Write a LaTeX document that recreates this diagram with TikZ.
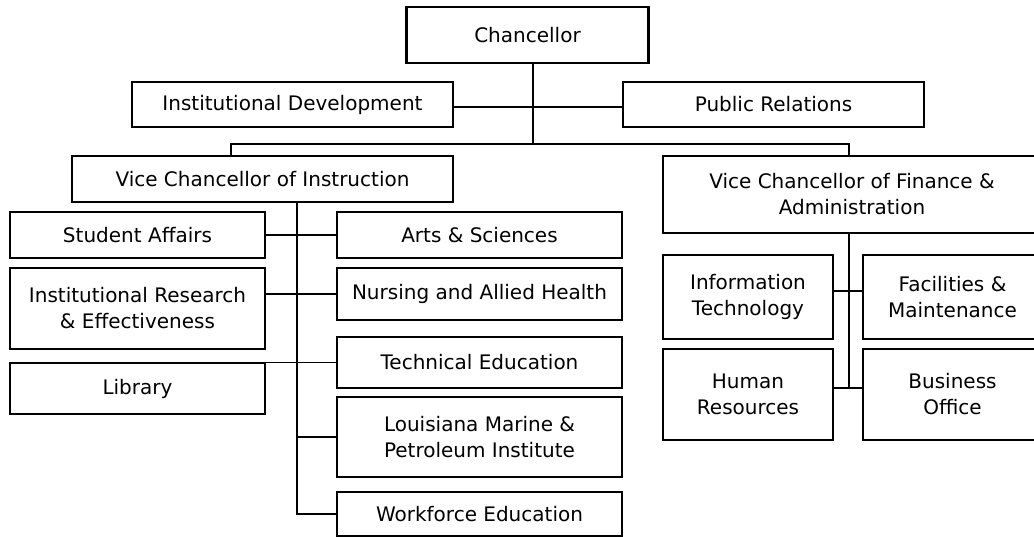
\documentclass[tikz,border=0pt]{standalone}
\usepackage{fontspec}
\setmainfont{DejaVu Sans}

\begin{document}
\begin{tikzpicture}[x=1pt,y=-1pt]
	\tikzset{
	  BoxStyle/.style = { draw, line width=2.3pt, fill=white, inner sep=0pt,
	                      align=center, font=\fontsize{20}{26}\selectfont },
	  EdgeStyle/.style = { line width=1.9pt } }
	\useasboundingbox (0,0) rectangle (1034,537);
	\node[BoxStyle, minimum width=242pt, minimum height=56pt] (chan) at (527.5,35) {Chancellor};
	\node[BoxStyle, minimum width=321pt, minimum height=45pt] (instdev) at (292.5,104.5) {Institutional Development};
	\node[BoxStyle, minimum width=301pt, minimum height=45pt] (pubrel) at (773.5,104.5) {Public Relations};
	\node[BoxStyle, minimum width=381pt, minimum height=46pt] (vcinst) at (262.5,179) {Vice Chancellor of Instruction};
	\node[BoxStyle, minimum width=378pt, minimum height=77pt] (vcfin) at (852,194.5) {Vice Chancellor of Finance \&\\Administration};
	\begin{scope}[BoxStyle/.append style = { minimum width=255pt }]
	\node[BoxStyle, minimum height=46pt] (stud) at (137.5,235) {Student Affairs};
	\node[BoxStyle, minimum height=81pt] (instres) at (137.5,308.5) {Institutional Research\\\& Effectiveness};
	\node[BoxStyle, minimum height=51pt] (lib) at (137.5,388.5) {Library};
	\end{scope}
	\begin{scope}[BoxStyle/.append style = { minimum width=285pt }]
	\node[BoxStyle, minimum height=46pt] (arts) at (479.5,235) {Arts \& Sciences};
	\node[BoxStyle, minimum height=52pt] (nurs) at (479.5,294) {Nursing and Allied Health};
	\node[BoxStyle, minimum height=51pt] (tech) at (479.5,362.5) {Technical Education};
	\node[BoxStyle, minimum height=80pt] (lmpi) at (479.5,437) {Louisiana Marine \&\\Petroleum Institute};
	\node[BoxStyle, minimum height=44pt] (work) at (479.5,514) {Workforce Education};
	\end{scope}
	\node[BoxStyle, minimum width=170pt, minimum height=84pt] (infotech) at (748,297) {Information\\Technology};
	\node[BoxStyle, minimum width=179pt, minimum height=84pt] (facil) at (952.5,297) {Facilities \&\\Maintenance};
	\node[BoxStyle, minimum width=170pt, minimum height=91pt] (human) at (748,394.5) {Human\\Resources};
	\node[BoxStyle, minimum width=179pt, minimum height=91pt] (busoff) at (952.5,394.5) {Business\\Office};
	\coordinate (bar) at (533,144);
	\coordinate (trunk) at ([xshift=34.5pt]vcinst.south);
	\coordinate (spine) at ([xshift=-3pt]vcfin.south);
	\draw[EdgeStyle] (chan.south -| bar) -- (bar);
	\draw[EdgeStyle] ([yshift=-2.5pt]instdev.east) -- ([yshift=-2.5pt]pubrel.west);
	\draw[EdgeStyle] ([xshift=-31.5pt]vcinst.north) |- (bar) -| ([xshift=-3pt]vcfin.north);
	\draw[EdgeStyle] (trunk) |- (work.west);
	\draw[EdgeStyle] (stud.east) -- (arts.west);
	\draw[EdgeStyle] (nurs.west) -- (nurs.west -| instres.east);
	\draw[EdgeStyle] (tech.west) -- (tech.west -| lib.east);
	\draw[EdgeStyle] (lmpi.west) -- (lmpi.west -| trunk);
	\draw[EdgeStyle] (spine) -- ([yshift=6.5pt]human.east -| spine);
	\draw[EdgeStyle] ([yshift=6pt]infotech.east) -- ([yshift=6pt]facil.west);
	\draw[EdgeStyle] ([yshift=6.5pt]human.east) -- ([yshift=6.5pt]busoff.west);
\end{tikzpicture}
\end{document}
